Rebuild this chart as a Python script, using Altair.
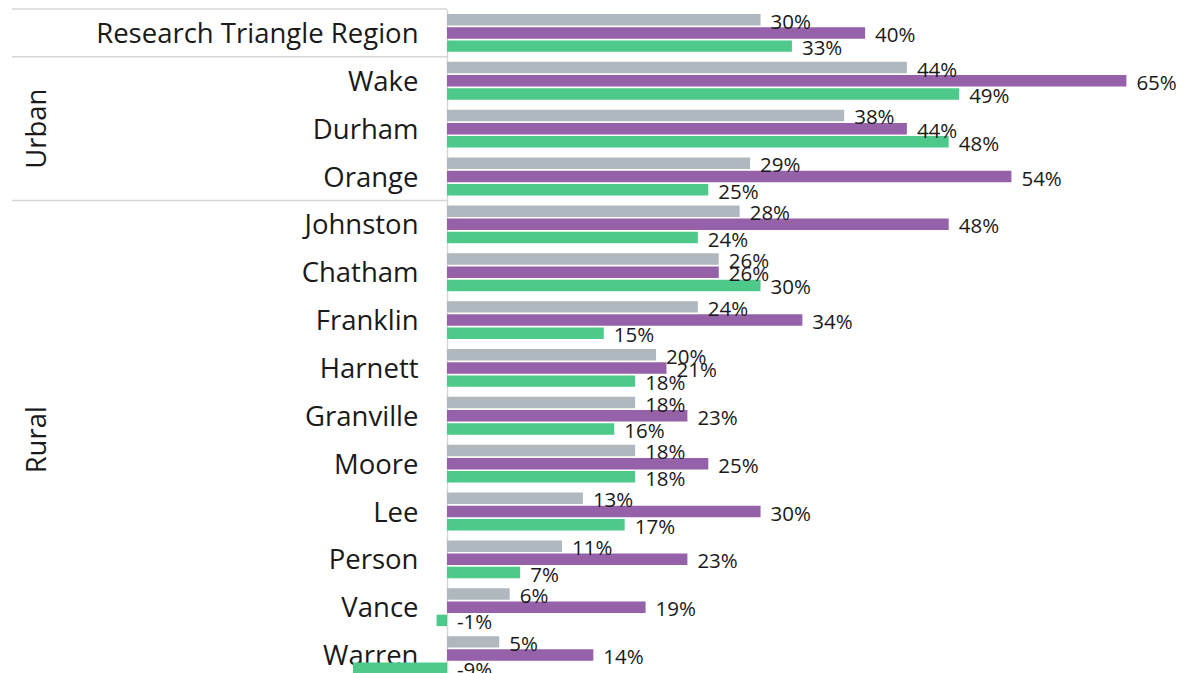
import altair as alt
import pandas as pd

categories = ["Research Triangle Region", "Wake", "Durham", "Orange", "Johnston",
              "Chatham", "Franklin", "Harnett", "Granville", "Moore", "Lee",
              "Person", "Vance", "Warren"]
series = ["Series 1", "Series 2", "Series 3"]
gray_vals = [30, 44, 38, 29, 28, 26, 24, 20, 18, 18, 13, 11, 6, 5]
purple_vals = [40, 65, 44, 54, 48, 26, 34, 21, 23, 25, 30, 23, 19, 14]
green_vals = [33, 49, 48, 25, 24, 30, 15, 18, 16, 18, 17, 7, -1, -9]
colors = ["#AFB8BE", "#9561A8", "#4DC98A"]

separator_rows = ["Research Triangle Region", "Wake", "Johnston"]
group_names = ["Urban", "Rural"]
group_anchor = ["Durham", "Moore"]

rows = []
for i, c in enumerate(categories):
    for s, vals in zip(series, [gray_vals, purple_vals, green_vals]):
        rows.append({"county": c, "series": s, "value": vals[i]})
df = pd.DataFrame(rows)

FONT = "Open Sans"
TXT = "#1a1a1a"
LINE = "#d6d6d6"

xscale = alt.Scale(domain=[0, 70.8], nice=False, zero=True)
yscale = alt.Scale(paddingInner=0, paddingOuter=0)

y_axis = alt.Axis(title=None, labelFont=FONT, labelFontSize=27.5, labelColor=TXT,
                  labelPadding=29, ticks=False, domainColor=LINE, domainWidth=1.5,
                  labelLimit=600, labelAlign="right", labelOffset=2)
y_enc = alt.Y("county:N", sort=categories, scale=yscale, axis=y_axis)
yoff = alt.YOffset("series:N", sort=series,
                   scale=alt.Scale(paddingInner=0.13, paddingOuter=0.38))
color = alt.Color("series:N", sort=series,
                  scale=alt.Scale(domain=series, range=colors), legend=None)

base = alt.Chart(df)
bars = base.mark_bar().encode(
    x=alt.X("value:Q", scale=xscale, axis=None),
    y=y_enc,
    yOffset=yoff,
    color=color,
)
labels = base.transform_calculate(
    pos="max(datum.value, 0)", txt="datum.value + '%'"
).mark_text(align="left", baseline="middle", dx=10, dy=3, font=FONT,
            fontSize=20.5, color=TXT).encode(
    x=alt.X("pos:Q", scale=xscale, axis=None),
    y=y_enc,
    yOffset=yoff,
    text="txt:N",
)

sep_df = pd.DataFrame({"county": separator_rows})
seps = alt.Chart(sep_df).mark_rule(color=LINE, strokeWidth=1.5).encode(
    y=alt.Y("county:N", sort=categories, scale=yscale, bandPosition=0, axis=y_axis),
    x=alt.value(-435),
    x2=alt.value(0),
)

urban = alt.Chart(pd.DataFrame({"county": [group_anchor[0]], "g": [group_names[0]]})).mark_text(
    angle=270, align="center", baseline="middle", font=FONT, fontSize=27.5, color=TXT
).encode(
    y=alt.Y("county:N", sort=categories, scale=yscale, bandPosition=0.5, axis=y_axis),
    x=alt.value(-409),
    text="g:N",
)
rural = alt.Chart(pd.DataFrame({"county": [group_anchor[1]], "g": [group_names[1]]})).mark_text(
    angle=270, align="center", baseline="middle", font=FONT, fontSize=27.5, color=TXT
).encode(
    y=alt.Y("county:N", sort=categories, scale=yscale, bandPosition=0, axis=y_axis),
    x=alt.value(-409),
    text="g:N",
)

chart = alt.layer(seps, bars, labels, urban, rural).properties(
    width=740,
    height=670,
    autosize=alt.AutoSizeParams(type="none"),
    padding={"left": 439, "top": 1, "right": 0, "bottom": 0},
    background="white",
).configure_view(stroke=None)

chart.save("out.html", embed_options={"renderer": "svg", "actions": False})
